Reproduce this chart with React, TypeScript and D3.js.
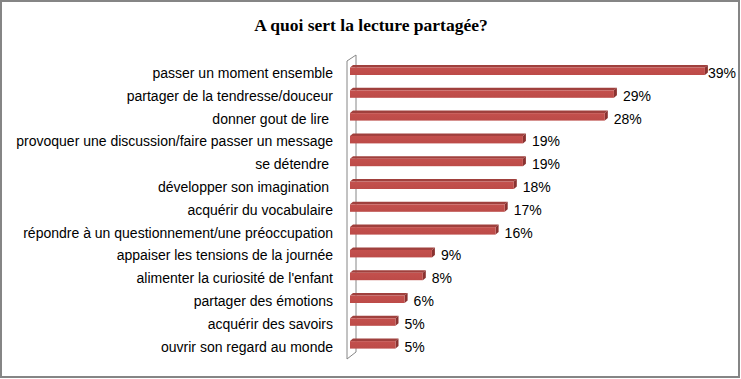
import React from "react";
import * as d3 from "d3";

const categories = [
  "passer un moment ensemble",
  "partager de la tendresse/douceur",
  "donner gout de lire ",
  "provoquer une discussion/faire passer un message",
  "se détendre ",
  "développer son imagination ",
  "acquérir du vocabulaire",
  "répondre à un questionnement/une préoccupation",
  "appaiser les tensions de la journée",
  "alimenter la curiosité de l'enfant",
  "partager des émotions",
  "acquérir des savoirs",
  "ouvrir son regard au monde",
];
const values = [39, 29, 28, 19, 19, 18, 17, 16, 9, 8, 6, 5, 5];
const valueLabels = ["39%", "29%", "28%", "19%", "19%", "18%", "17%", "16%", "9%", "8%", "6%", "5%", "5%"];
const title = "A quoi sert la lecture partagée?";

const W = 741;
const H = 379;

export default function App() {
  const x = d3.scaleLinear().domain([0, 40]).range([350, 714]);
  const y = d3.scalePoint<string>().domain(categories).range([70.5, 344.1]);
  const dx = 3;
  const dy = -2.5;
  const font = "Liberation Sans, Arial, sans-serif";

  return (
    <svg
      width={W}
      height={H}
      style={{ position: "absolute", left: 0, top: 0, background: "#fff" }}
    >
      <defs>
        <linearGradient id="front" x1="0" y1="0" x2="0" y2="1">
          <stop offset="0" stopColor="#C4504D" />
          <stop offset="1" stopColor="#BC4B48" />
        </linearGradient>
      </defs>
      <rect x={1} y={1} width={738} height={376} fill="#fff" stroke="#858585" strokeWidth={2} />
      <text
        x={371}
        y={31}
        textAnchor="middle"
        fontFamily="Liberation Serif, Times New Roman, serif"
        fontWeight="bold"
        fontSize={17.5}
        fill="#000"
      >
        {title}
      </text>
      {/* back wall */}
      <polygon
        points="347,61 356,55 356,352 347,359"
        fill="#fff"
        stroke="#868686"
        strokeWidth={1}
      />
      {categories.map((c, i) => {
        const cy = y(c)!;
        const x0 = x(0);
        const x1 = x(values[i]);
        const top = cy - 3;
        const bot = cy + 4.5;
        return (
          <g key={c}>
            <polygon
              points={`${x0},${top} ${x0 + dx},${top + dy} ${x1 + dx},${top + dy} ${x1},${top}`}
              fill="#A0403D"
            />
            <polygon
              points={`${x1},${top} ${x1 + dx},${top + dy} ${x1 + dx},${bot + dy} ${x1},${bot}`}
              fill="#8A3230"
            />
            <rect x={x0} y={top} width={x1 - x0} height={bot - top} fill="url(#front)" />
            <text
              x={333}
              y={cy + 2.5}
              dominantBaseline="central"
              textAnchor="end"
              fontFamily={font}
              fontSize={14}
              fill="#000"
              style={{ whiteSpace: "pre" }}
            >
              {c}
            </text>
            <text
              x={Math.min(x1 + dx + 6, 708)}
              y={cy + 2.5}
              dominantBaseline="central"
              fontFamily={font}
              fontSize={14}
              fill="#000"
            >
              {valueLabels[i]}
            </text>
          </g>
        );
      })}
    </svg>
  );
}
